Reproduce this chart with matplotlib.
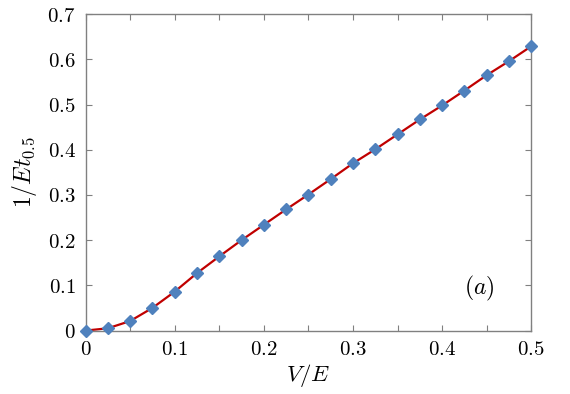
import matplotlib
matplotlib.use("Agg")
import matplotlib.pyplot as plt
from matplotlib.ticker import MultipleLocator, FuncFormatter

plt.rcParams['mathtext.fontset'] = 'cm'
plt.rcParams['font.family'] = ['DejaVu Serif']

# Data
v_over_e = [0.0, 0.025, 0.05, 0.075, 0.1, 0.125, 0.15, 0.175, 0.2, 0.225, 0.25,
            0.275, 0.3, 0.325, 0.35, 0.375, 0.4, 0.425, 0.45, 0.475, 0.5]
inv_et = [0.0, 0.005, 0.021, 0.050, 0.086, 0.127, 0.164, 0.200, 0.234, 0.268, 0.301,
          0.335, 0.370, 0.401, 0.434, 0.467, 0.498, 0.531, 0.565, 0.596, 0.629]
xticks = [0, 0.1, 0.2, 0.3, 0.4, 0.5]
yticks = [0, 0.1, 0.2, 0.3, 0.4, 0.5, 0.6, 0.7]

fig = plt.figure(figsize=(5.70, 3.94), dpi=100)
ax = fig.add_axes([0.150, 0.161, 0.782, 0.803])

ax.plot(v_over_e, inv_et, color='#c00000', lw=1.6, zorder=2)
ax.plot(v_over_e, inv_et, linestyle='none', marker='D', markersize=6.3,
        color='#4f81bd', zorder=3, clip_on=False)

ax.set_xlim(0, 0.5)
ax.set_ylim(0, 0.7)
ax.set_xticks(xticks)
ax.set_yticks(yticks)
ax.xaxis.set_minor_locator(MultipleLocator(0.05))

fmt = FuncFormatter(lambda v, p: r'$%g$' % round(v, 2))
ax.xaxis.set_major_formatter(fmt)
ax.yaxis.set_major_formatter(fmt)

gray = '#808080'
for s in ax.spines.values():
    s.set_color(gray)
    s.set_linewidth(1.0)
ax.tick_params(which='both', direction='in', top=True, right=True, color=gray,
               labelsize=15, width=0.8)
ax.tick_params(which='major', length=4, pad=7)
ax.tick_params(which='minor', length=4)

ax.set_xlabel(r'$V/E$', fontsize=16.5, labelpad=2)
ax.set_ylabel(r'$1/Et_{0.5}$', fontsize=17, labelpad=6)

ax.text(0.4416, 0.094, r'$(a)$', fontsize=17, ha='center', va='center')

fig.savefig('out.png', dpi=100)
